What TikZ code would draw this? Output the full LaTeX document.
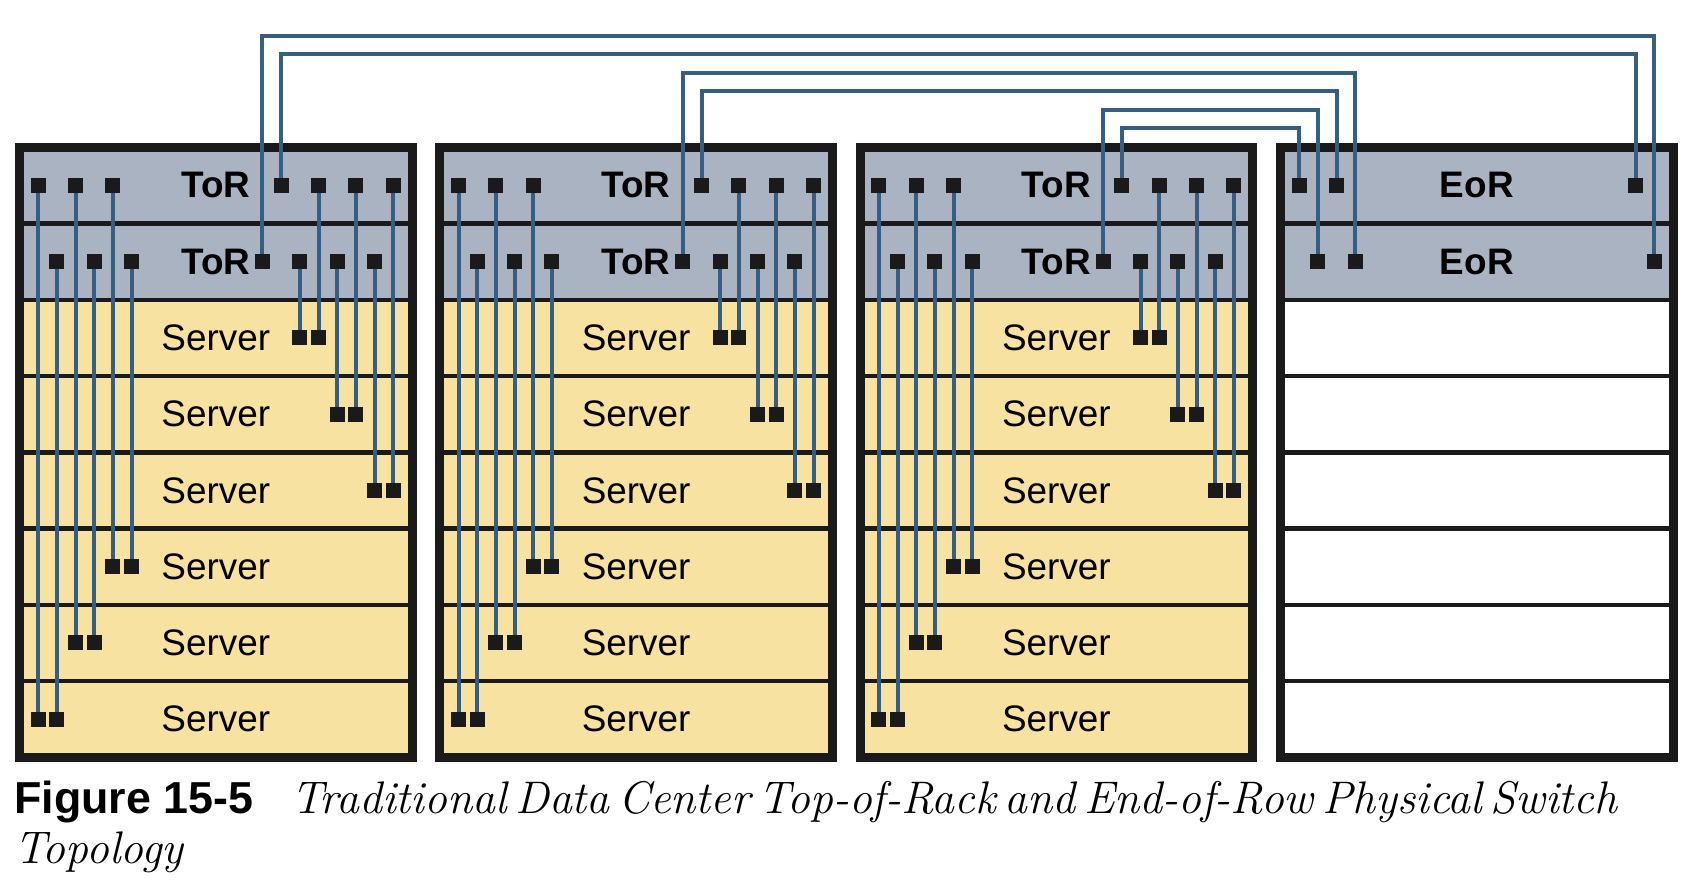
\documentclass[tikz,border=0pt]{standalone}
\usepackage{fontspec}
\newfontfamily\rackfont{Liberation Sans}
\definecolor{torgray}{RGB}{170,179,194}
\definecolor{srvyellow}{RGB}{248,226,161}
\definecolor{wireblue}{RGB}{54,94,128}
\definecolor{framegray}{RGB}{26,26,26}
\pgfdeclarelayer{racks}
\pgfdeclarelayer{cables}
\pgfsetlayers{racks,cables,main}
\tikzset{
  frame/.style={draw=framegray, line width=0.18cm},
  sep/.style={draw=framegray, line width=0.09cm},
  port/.style={fill=framegray, inner sep=0pt, minimum size=0.3cm},
  wire/.style={draw=wireblue, line width=0.08cm},
  srv/.style={inner sep=0pt, font=\rackfont\fontsize{21}{25}\selectfont},
  swtag/.style={srv, font=\rackfont\bfseries\fontsize{21}{25}\selectfont},
  capt/.style={anchor=base west, inner sep=0pt, font=\itshape\fontsize{26}{31}\selectfont}
}
\begin{document}
\begin{tikzpicture}[x=0.02cm, y=-0.02cm]
    \useasboundingbox (0,0) rectangle (1696,882);
    \begin{pgfonlayer}{racks}
        \foreach \rk/\body in {0/srvyellow,1/srvyellow,2/srvyellow,3/white} {
            \pgfmathsetmacro{\rx}{19.5+420.33*\rk}
            \fill[torgray] (\rx,147.3) rectangle ++(392.5,152.5);
            \fill[\body] (\rx,299.8) rectangle ++(392.5,457.7);
            \foreach \k in {1,...,7}
                \draw[sep] (\rx,{147.3+76.25*\k}) -- ++(392.5,0);
            \draw[frame] (\rx,147.3) rectangle ++(392.5,610.2);
        }
    \end{pgfonlayer}
    \foreach \rk in {0,1,2} {
        \pgfmathsetmacro{\rx}{19.5+420.33*\rk}
        \node[swtag] (tor\rk-a) at ({\rx+196.25},185.4) {ToR};
        \node[swtag] (tor\rk-b) at ({\rx+196.25},261.7) {ToR};
        \foreach \k in {1,...,6}
            \node[srv] (srv\rk-\k) at ({\rx+196.25},{261.7+76.25*\k}) {Server};
        \foreach \c in {1,3,5,14,16,18,20}
            \node[port] (p\rk-a\c) at ({\rx+18.69*\c},185.4) {};
        \foreach \c in {2,4,6,13,15,17,19}
            \node[port] (p\rk-b\c) at ({\rx+18.69*\c},261.7) {};
        \foreach \c/\s/\k in {15/b/1,16/a/1,17/b/2,18/a/2,19/b/3,20/a/3,5/a/4,6/b/4,3/a/5,4/b/5,1/a/6,2/b/6} {
            \node[port] (q\rk-\c) at ({\rx+18.69*\c},{261.7+76.25*\k}) {};
            \begin{pgfonlayer}{cables}
                \draw[wire] (p\rk-\s\c.center) -- (q\rk-\c.center);
            \end{pgfonlayer}
        }
    }
    \node[swtag] (eor-a) at (1476.75,185.4) {EoR};
    \node[swtag] (eor-b) at (1476.75,261.7) {EoR};
    \foreach \c in {1,3,19}
        \node[port] (e-a\c) at ({1280.5+18.69*\c},185.4) {};
    \foreach \c in {2,4,20}
        \node[port] (e-b\c) at ({1280.5+18.69*\c},261.7) {};
    \begin{pgfonlayer}{cables}
        \foreach \rk/\lv/\ca/\cb in {0/36/19/20,1/72.9/3/4,2/109.8/1/2} {
            \draw[wire] (p\rk-b13.center) -- (p\rk-b13.center |- 0,\lv) -| (e-b\cb.center);
            \draw[wire] (p\rk-a14.center) -- (p\rk-a14.center |- 0,{\lv+18.45}) -| (e-a\ca.center);
        }
    \end{pgfonlayer}
    \node[anchor=base west, inner sep=0pt, font=\rackfont\bfseries\fontsize{25.5}{30}\selectfont] (fig) at (14,813) {Figure 15-5};
    \node[capt] (title) at (291,813) {\spaceskip=0.19em Traditional Data Center Top-of-Rack and End-of-Row Physical Switch};
    \node[capt] (title2) at (14,863) {Topology};
\end{tikzpicture}
\end{document}
